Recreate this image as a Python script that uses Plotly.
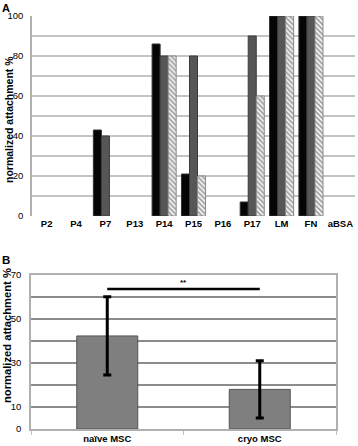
import plotly.graph_objects as go

# Panel A data
cats_a = ["P2", "P4", "P7", "P13", "P14", "P15", "P16", "P17", "LM", "FN", "aBSA"]
series1 = [None, None, 43, None, 86, 21, None, 7, 100, 100, None]
series2 = [None, None, 40, None, 80, 80, None, 90, 100, 100, None]
series3 = [None, None, None, None, 80, 20, None, 60, 100, 100, None]
yticks_a = [0, 10, 20, 30, 40, 50, 60, 70, 80, 90, 100]
yticktext_a = ["0", "", "20", "", "40", "", "60", "", "80", "", "100"]

# Panel B data
cats_b = ["naïve MSC", "cryo MSC"]
vals_b = [42.3, 18.0]
err_b = [17.8, 13.0]
yticks_b = [0, 10, 20, 30, 40, 50, 60, 70]
yticktext_b = ["0", "10", "", "30", "", "50", "", "70"]
sig_y = 63.6
sig_label = "**"
ytitle = "normalized attachment %"

FONT = "Arial, Liberation Sans, sans-serif"
fig = go.Figure()

fig.add_trace(go.Bar(x=cats_a, y=series1, xaxis="x", yaxis="y",
                     marker=dict(color="#050505", line=dict(color="#333333", width=1))))
fig.add_trace(go.Bar(x=cats_a, y=series2, xaxis="x", yaxis="y",
                     marker=dict(color="#565656", line=dict(color="#3a3a3a", width=1))))
fig.add_trace(go.Bar(x=cats_a, y=series3, xaxis="x", yaxis="y",
                     marker=dict(color="white", line=dict(color="#8a8a8a", width=1),
                                 pattern=dict(shape="\\", fgcolor="#444444", bgcolor="#f8f8f8",
                                              size=3.5, solidity=0.5))))

fig.add_trace(go.Bar(x=cats_b, y=vals_b, xaxis="x2", yaxis="y2", width=0.4,
                     marker=dict(color="#7f7f7f", line=dict(color="#555555", width=1)),
                     error_y=dict(type="data", array=err_b, color="black", thickness=3, width=4)))

fig.add_shape(type="line", xref="x2", yref="y2", x0=0, x1=1, y0=sig_y, y1=sig_y,
              line=dict(color="black", width=2.5))
fig.add_annotation(xref="x2", yref="y2", x=0.5, y=sig_y, text="<b>" + sig_label + "</b>",
                   showarrow=False, yanchor="bottom", font=dict(size=8, color="black", family=FONT))

fig.add_annotation(xref="paper", yref="paper", x=0.0, y=1.0, text="<b>A</b>", showarrow=False,
                   xanchor="left", yanchor="top", font=dict(size=11, color="black", family=FONT))
fig.add_annotation(xref="paper", yref="paper", x=0.0, y=1 - 252 / 446, text="<b>B</b>", showarrow=False,
                   xanchor="left", yanchor="top", font=dict(size=11.5, color="black", family=FONT))

# y-axis titles
fig.add_annotation(xref="paper", yref="paper", x=9 / 358, y=1 - 120 / 446, text="<b>" + ytitle + "</b>",
                   textangle=-90, showarrow=False, xanchor="center", yanchor="middle",
                   font=dict(size=10.5, color="black", family=FONT))
fig.add_annotation(xref="paper", yref="paper", x=7 / 358, y=1 - 336 / 446, text="<b>" + ytitle + "</b>",
                   textangle=-90, showarrow=False, xanchor="center", yanchor="middle",
                   font=dict(size=11.2, color="black", family=FONT))

tickfont = dict(size=9.5, color="black", family=FONT)

fig.update_layout(
    width=358, height=446,
    margin=dict(l=0, r=0, t=0, b=0),
    paper_bgcolor="white", plot_bgcolor="white",
    showlegend=False, barmode="group", bargap=0.18, bargroupgap=0,
    font=dict(family=FONT, color="black"),
    xaxis=dict(domain=[32 / 358, 355 / 358], anchor="y", showgrid=False, ticks="",
               tickfont=tickfont, tickprefix="<b>", ticksuffix="</b>", automargin=False,
               showline=False, zeroline=False),
    yaxis=dict(domain=[1 - 216 / 446, 1 - 16 / 446], anchor="x", range=[0, 100],
               tickvals=yticks_a, ticktext=yticktext_a, tickprefix="<b>", ticksuffix="</b>",
               tickfont=tickfont, showgrid=True, gridcolor="#c4c4c4", gridwidth=1.5,
               showline=True, linecolor="#b0b0b0", linewidth=1.5, zeroline=False,
               ticks="", automargin=False, ticklabelstandoff=5),
    xaxis2=dict(domain=[31 / 358, 336 / 358], anchor="y2", showgrid=False,
                ticks="outside", tickson="boundaries", ticklen=4, tickcolor="#c0c0c0",
                tickfont=tickfont, tickprefix="<b>", ticksuffix="</b>", automargin=False,
                showline=True, linecolor="#b0b0b0", linewidth=1.5, mirror=True, zeroline=False),
    yaxis2=dict(domain=[1 - 429 / 446, 1 - 275 / 446], anchor="x2", range=[0, 70],
                tickvals=yticks_b, ticktext=yticktext_b, tickprefix="<b>", ticksuffix="</b>",
                tickfont=tickfont, showgrid=True, gridcolor="#8c8c8c", gridwidth=1.5,
                showline=True, linecolor="#b0b0b0", linewidth=1.5, mirror=True, zeroline=False,
                ticks="", automargin=False, ticklabelstandoff=6),
)

fig.write_html("out.html", config={"displayModeBar": False},
               post_script="document.body.style.margin='0';document.body.style.overflow='hidden';")
